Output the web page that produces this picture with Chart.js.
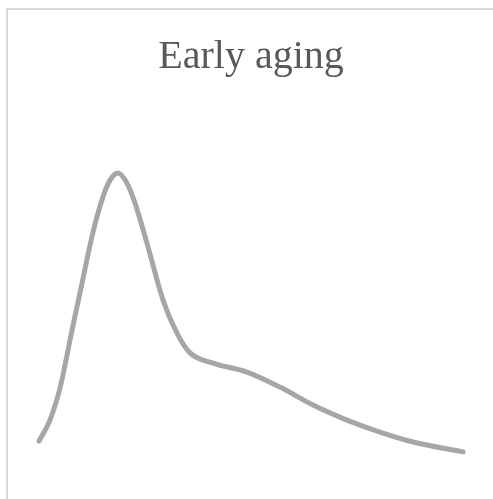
<!DOCTYPE html>
<html>
<head>
<meta charset="utf-8">
<script src="https://cdn.jsdelivr.net/npm/chart.js@4"></script>
<style>
  body { margin: 0; background: #fff; overflow: hidden; }
  #frame { position: absolute; left: 6px; top: 8px; width: 600px; height: 600px; border: 2px solid #d9d9d9; }
  #agingChart { position: absolute; left: 0; top: 0; }
</style>
</head>
<body>
<div id="frame"></div>
<canvas id="agingChart" width="493" height="499"></canvas>
<script>
const chartTitle = 'Early aging';
// x positions (time) and level
const timeValues = [0, 0.62, 1.19, 1.87, 2.32, 3.06, 3.62, 4.02, 4.47, 4.98, 5.43, 6.11, 7.02, 7.81, 8.55, 9.85, 11.77, 13.64, 15.51, 17.43, 19.3, 21.17, 24];
const levelValues = [6.3, 13.3, 24, 43.3, 55.7, 76, 87.7, 93.3, 95.7, 92.3, 85.7, 72.3, 53.3, 42.3, 35.7, 32.3, 29.3, 24.3, 18.3, 13.3, 9.3, 6, 2.7];

const points = timeValues.map((t, i) => ({ x: t, y: levelValues[i] }));

const ctx = document.getElementById('agingChart').getContext('2d');
new Chart(ctx, {
    type: 'line',
    data: {
        datasets: [{
            data: points,
            borderColor: '#a6a6a6',
            borderWidth: 5,
            borderCapStyle: 'round',
            borderJoinStyle: 'round',
            pointRadius: 0,
            cubicInterpolationMode: 'monotone',
            clip: false,
            fill: false
        }]
    },
    options: {
        responsive: false,
        animation: false,
        layout: { padding: { left: 39, right: 30, top: 0, bottom: 39 } },
        plugins: {
            legend: { display: false },
            tooltip: { enabled: false },
            title: {
                display: true,
                text: chartTitle,
                color: '#595959',
                font: { family: '"Liberation Serif", serif', size: 40, weight: 'normal' },
                padding: { top: 33, bottom: 79 }
            }
        },
        scales: {
            x: { type: 'linear', min: 0, max: 24, display: false },
            y: { min: 0, max: 100, display: false }
        }
    }
});
</script>
</body>
</html>
